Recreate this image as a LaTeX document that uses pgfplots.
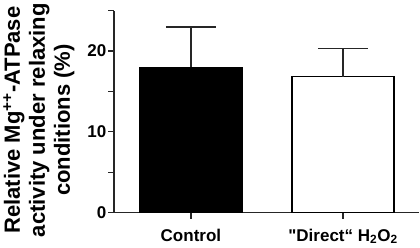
\documentclass[border=0pt]{standalone}
\usepackage{fontspec}
\setmainfont{Liberation Sans}[Ligatures=TeXOff]
\usepackage{pgfplots}
\pgfplotsset{compat=1.18}
\begin{document}
\begin{tikzpicture}
\begin{axis}[
  scale only axis, width=305bp, height=201.6bp,
  xmin=-0.505, xmax=1.502, ymin=0, ymax=25,
  axis x line*=bottom, axis y line*=left,
  axis line style={line width=1.3bp, black!85},
  every tick/.style={line width=1.3bp, black!85},
  tick align=outside,
  major tick length=6bp, minor tick length=6bp,
  xtick={0,1},
  xticklabels={Control, {"Direct“ H\textsubscript{2}O\textsubscript{2}}},
  ytick={0,10,20}, minor ytick={5,15,25},
  /pgf/number format/assume math mode=true,
  tick label style={font=\fontsize{17bp}{20bp}\selectfont\bfseries},
  yticklabel style={inner xsep=1.5bp},
  xticklabel style={yshift=-7bp},
  ylabel={Relative Mg\textsuperscript{++}-ATPase\\activity under relaxing\\conditions (\%)},
  ylabel style={align=center, font=\fontsize{22bp}{25bp}\selectfont\bfseries, xshift=-8.5bp, yshift=8bp},
  ybar, bar shift=0pt, bar width=102bp,
]
\addplot[fill=black, draw=black, line width=1.3bp,
  error bars/.cd, y dir=plus, y explicit,
  error bar style={line width=1.3bp, black!85},
  error mark options={rotate=90, mark size=25bp, line width=1.3bp, black!85}]
  coordinates {(0,18.0) +- (0,5.0)};
\addplot[fill=white, draw=black, line width=1.3bp,
  error bars/.cd, y dir=plus, y explicit,
  error bar style={line width=1.3bp, black!85},
  error mark options={rotate=90, mark size=25bp, line width=1.3bp, black!85}]
  coordinates {(1,16.85) +- (0,3.5)};
\end{axis}
\end{tikzpicture}
\end{document}
